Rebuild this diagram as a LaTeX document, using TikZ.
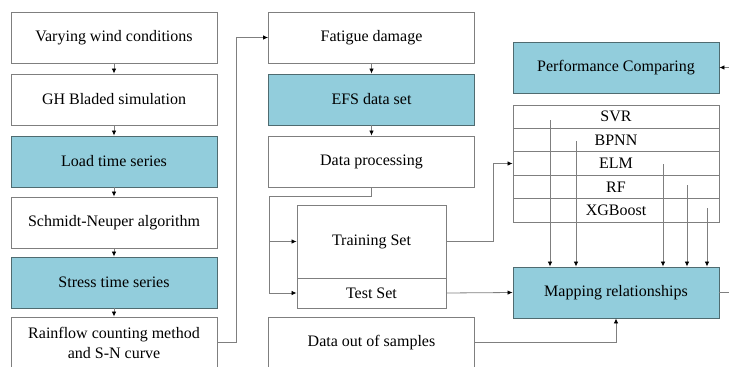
\documentclass[tikz,border=0pt]{standalone}
\usepackage{fontspec}
\setmainfont{LiberationSerif}[Extension=.ttf,UprightFont=*-Regular]
\usepackage{tikz}
\usetikzlibrary{arrows.meta}
\definecolor{boxteal}{HTML}{92CDDC}
\definecolor{tealedge}{HTML}{4F6B70}
\definecolor{lineg}{HTML}{7F7F7F}

\begin{document}
\begin{tikzpicture}[x=1pt,y=-1pt,
        box/.style={rectangle,draw=lineg,line width=0.9pt,fill=white,
                    minimum width=206pt,minimum height=51pt,inner sep=0pt,
                    align=center,font=\fontsize{16}{20}\selectfont},
        tealbox/.style={box,draw=tealedge,fill=boxteal},
        row/.style={box,minimum height=23.4pt},
        arr/.style={draw=lineg,line width=0.8pt,-{Latex[length=5pt,width=4.5pt,black]}},
        conn/.style={draw=lineg,line width=0.8pt}]
      \useasboundingbox (0,0) rectangle (729,367);
      % left column
      \node[box]     (wind)     at (114,37.5)  {Varying wind conditions};
      \node[box]     (bladed)   at (114,99.5)  {GH Bladed simulation};
      \node[tealbox] (load)     at (114,161.5) {Load time series};
      \node[box]     (schmidt)  at (114,222.5) {Schmidt-Neuper algorithm};
      \node[tealbox] (stress)   at (114,282.5) {Stress time series};
      \node[box]     (rainflow) at (114,342.5) {Rainflow counting method\\and S-N curve};
      % middle column
      \node[box]     (fatigue)  at (371.5,37.5)  {Fatigue damage};
      \node[tealbox] (efs)      at (371.5,99.5)  {EFS data set};
      \node[box]     (proc)     at (371.5,161.5) {Data processing};
      \node[box,minimum width=149pt,minimum height=73pt] (train) at (371.5,241.5) {Training Set};
      \node[box,minimum width=149pt,minimum height=30pt] (test)  at (371.5,293)   {Test Set};
      \node[box]     (samples)  at (371.5,342.5) {Data out of samples};
      % right column
      \node[tealbox] (perf)     at (616,67.5)  {Performance Comparing};
      \node[row]     (svr)      at (616,116.7) {SVR};
      \node[row]     (bpnn)     at (616,140.1) {BPNN};
      \node[row]     (elm)      at (616,163.5) {ELM};
      \node[row]     (rf)       at (616,186.9) {RF};
      \node[row]     (xgb)      at (616,210.3) {XGBoost};
      \node[tealbox] (map)      at (616,292.5) {Mapping relationships};

      \draw[arr] (wind)    -- (bladed);
      \draw[arr] (bladed)  -- (load);
      \draw[arr] (load)    -- (schmidt);
      \draw[arr] (schmidt) -- (stress);
      \draw[arr] (stress)  -- (rainflow);
      \draw[arr] (rainflow.east) -- ++(19,0) |- (fatigue.west);
      \draw[arr] (fatigue) -- (efs);
      \draw[arr] (efs)     -- (proc);

      \coordinate (split) at (269,196);
      \draw[conn] (proc.south) |- (split);
      \draw[arr] (split) |- (train.west);
      \draw[arr] (split) |- (test.west);
      \draw[arr] (train.east) -- ++(47,0) |- (elm.west);
      \draw[arr] (test.east) -- (map.west);
      \draw[arr] (samples.east) -| (map.south);

      % model outputs
      \foreach \n/\x/\y in {m1/550/120, m2/576/141, m3/663/164, m4/687/185, m5/707/208}{
        \coordinate (\n) at (\x,\y);
        \draw[arr] (\n) -- (\n |- map.north);
      }

      \coordinate (outR) at (729,292.5);
      \coordinate (inR)  at (729,67.5);
      \draw[conn] (map.east) -- (outR);
      \draw[arr]  (inR) -- (perf.east);
    \end{tikzpicture}
\end{document}
